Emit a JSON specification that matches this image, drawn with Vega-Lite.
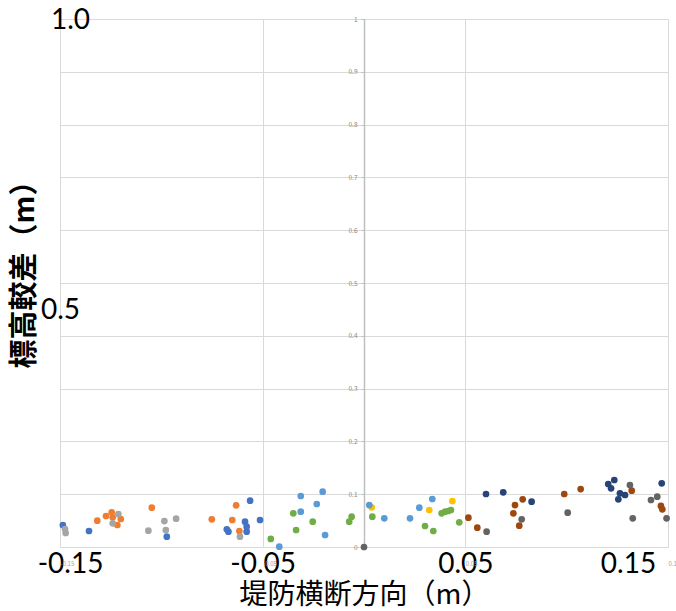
{
  "$schema": "https://vega.github.io/schema/vega-lite/v6.json",
  "width": 608,
  "height": 528,
  "autosize": {"type": "none"},
  "padding": {"left": 60, "top": 19, "right": 8, "bottom": 64},
  "background": "white",
  "config": {"view": {"stroke": null}, "font": "Noto Sans CJK JP"},
  "data": {"values": [
    {"s": "A", "x": -0.1486, "y": 0.0417},
    {"s": "A", "x": -0.1357, "y": 0.0303},
    {"s": "A", "x": -0.0973, "y": 0.0195},
    {"s": "A", "x": -0.0562, "y": 0.0877},
    {"s": "A", "x": -0.0677, "y": 0.0335},
    {"s": "A", "x": -0.0669, "y": 0.029},
    {"s": "A", "x": -0.0587, "y": 0.0479},
    {"s": "A", "x": -0.0579, "y": 0.0384},
    {"s": "A", "x": -0.0579, "y": 0.029},
    {"s": "A", "x": -0.0513, "y": 0.0511},
    {"s": "B", "x": -0.1316, "y": 0.0498},
    {"s": "B", "x": -0.1273, "y": 0.0587},
    {"s": "B", "x": -0.1245, "y": 0.0657},
    {"s": "B", "x": -0.124, "y": 0.0563},
    {"s": "B", "x": -0.12, "y": 0.053},
    {"s": "B", "x": -0.1217, "y": 0.0417},
    {"s": "B", "x": -0.1047, "y": 0.0744},
    {"s": "B", "x": -0.0751, "y": 0.0525},
    {"s": "B", "x": -0.0631, "y": 0.079},
    {"s": "B", "x": -0.065, "y": 0.0511},
    {"s": "B", "x": -0.0615, "y": 0.0303},
    {"s": "C", "x": -0.1475, "y": 0.0341},
    {"s": "C", "x": -0.1472, "y": 0.0265},
    {"s": "C", "x": -0.1212, "y": 0.0625},
    {"s": "C", "x": -0.124, "y": 0.0449},
    {"s": "C", "x": -0.1064, "y": 0.0309},
    {"s": "C", "x": -0.0985, "y": 0.0492},
    {"s": "C", "x": -0.0978, "y": 0.0322},
    {"s": "C", "x": -0.0927, "y": 0.0536},
    {"s": "C", "x": -0.0612, "y": 0.0195},
    {"s": "D", "x": 0.0038, "y": 0.0752},
    {"s": "D", "x": 0.0322, "y": 0.0701},
    {"s": "D", "x": 0.0436, "y": 0.0871},
    {"s": "E", "x": -0.0418, "y": 0.0006},
    {"s": "E", "x": -0.0312, "y": 0.0966},
    {"s": "E", "x": -0.0312, "y": 0.0669},
    {"s": "E", "x": -0.0204, "y": 0.1047},
    {"s": "E", "x": -0.0233, "y": 0.0814},
    {"s": "E", "x": -0.0192, "y": 0.0227},
    {"s": "E", "x": 0.0026, "y": 0.0795},
    {"s": "E", "x": 0.01, "y": 0.0544},
    {"s": "E", "x": 0.0227, "y": 0.0544},
    {"s": "E", "x": 0.0273, "y": 0.0744},
    {"s": "E", "x": 0.0337, "y": 0.0909},
    {"s": "F", "x": -0.046, "y": 0.0152},
    {"s": "F", "x": -0.0349, "y": 0.0638},
    {"s": "F", "x": -0.0335, "y": 0.0322},
    {"s": "F", "x": -0.0253, "y": 0.0479},
    {"s": "F", "x": -0.0061, "y": 0.0574},
    {"s": "F", "x": -0.0073, "y": 0.0479},
    {"s": "F", "x": 0.0041, "y": 0.0574},
    {"s": "F", "x": 0.0301, "y": 0.0398},
    {"s": "F", "x": 0.0342, "y": 0.0303},
    {"s": "F", "x": 0.0383, "y": 0.0638},
    {"s": "F", "x": 0.04, "y": 0.0669},
    {"s": "F", "x": 0.0416, "y": 0.0682},
    {"s": "F", "x": 0.0429, "y": 0.0701},
    {"s": "F", "x": 0.047, "y": 0.0468},
    {"s": "G", "x": 0.0602, "y": 0.1004},
    {"s": "G", "x": 0.0687, "y": 0.1036},
    {"s": "G", "x": 0.0827, "y": 0.0858},
    {"s": "G", "x": 0.1205, "y": 0.1193},
    {"s": "G", "x": 0.1235, "y": 0.1269},
    {"s": "G", "x": 0.1219, "y": 0.1112},
    {"s": "G", "x": 0.1263, "y": 0.1017},
    {"s": "G", "x": 0.1255, "y": 0.0903},
    {"s": "G", "x": 0.1288, "y": 0.0985},
    {"s": "G", "x": 0.1469, "y": 0.1206},
    {"s": "H", "x": 0.0515, "y": 0.0555},
    {"s": "H", "x": 0.0559, "y": 0.0366},
    {"s": "H", "x": 0.0783, "y": 0.0903},
    {"s": "H", "x": 0.0745, "y": 0.0795},
    {"s": "H", "x": 0.0737, "y": 0.0638},
    {"s": "H", "x": 0.0766, "y": 0.0403},
    {"s": "H", "x": 0.0988, "y": 0.1004},
    {"s": "H", "x": 0.1069, "y": 0.1098},
    {"s": "H", "x": 0.1321, "y": 0.1066},
    {"s": "H", "x": 0.1465, "y": 0.0777},
    {"s": "H", "x": 0.1472, "y": 0.0714},
    {"s": "I", "x": 0.0, "y": 0.0},
    {"s": "I", "x": 0.0605, "y": 0.029},
    {"s": "I", "x": 0.0778, "y": 0.0525},
    {"s": "I", "x": 0.1005, "y": 0.065},
    {"s": "I", "x": 0.1312, "y": 0.1174},
    {"s": "I", "x": 0.1326, "y": 0.0544},
    {"s": "I", "x": 0.1416, "y": 0.089},
    {"s": "I", "x": 0.1447, "y": 0.0953},
    {"s": "I", "x": 0.1493, "y": 0.0544}
  ]},
  "layer": [
    {
      "transform": [{"filter": {"field": "s", "oneOf": ["A", "B", "C", "D", "E"]}}],
      "mark": {"type": "point", "filled": true, "opacity": 1, "size": 45},
      "encoding": {
        "x": {
          "field": "x", "type": "quantitative",
          "scale": {"domain": [-0.15, 0.15], "nice": false, "zero": false},
          "axis": {
            "values": [-0.15, -0.05, 0.05, 0.15],
            "grid": true, "gridColor": "#d9d9d9", "gridWidth": 1,
            "domain": false, "ticks": false, "tickSize": 0,
            "labelExpr": "(datum.value < 0 ? '-' : '') + format(abs(datum.value), '.2f')",
            "labelFont": "Lato", "labelFontSize": 28, "labelColor": "#000",
            "labelPadding": 3, "labelOverlap": false, "labelFlush": false, "labelBound": false,
            "labelOffset": {"condition": [{"test": "datum.value < -0.1", "value": 10}, {"test": "datum.value > 0.1", "value": -40}], "value": 0},
            "title": "堤防横断方向（m）",
            "titleFont": "Noto Sans CJK JP", "titleFontSize": 28, "titleFontWeight": "normal",
            "titleColor": "#000", "titleY": 48, "titleBaseline": "middle"
          }
        },
        "y": {
          "field": "y", "type": "quantitative",
          "scale": {"domain": [0, 1], "nice": false, "zero": true},
          "axis": {
            "values": [0, 0.1, 0.2, 0.3, 0.4, 0.5, 0.6, 0.7, 0.8, 0.9, 1],
            "grid": true, "gridColor": "#d9d9d9", "gridWidth": 1,
            "domain": false, "ticks": false, "tickSize": 0,
            "labelExpr": "datum.value == 0.5 || datum.value == 1 ? format(datum.value, '.1f') : ''",
            "labelFont": "Lato", "labelFontSize": 28, "labelColor": "#000",
            "labelAlign": "center", "labelBaseline": "middle", "labelOverlap": false, "labelBound": false, "labelFlush": false,
            "labelPadding": {"condition": {"test": "datum.value == 1", "value": -10}, "value": 0},
            "labelOffset": {"condition": {"test": "datum.value == 0.5", "value": 27}, "value": 1},
            "title": "標高較差（m）",
            "titleFont": "Noto Sans CJK JP", "titleFontSize": 29, "titleFontWeight": "bold",
            "titleColor": "#000", "titleX": -36, "titleY": 248, "titleAngle": 270,
            "titleAlign": "center", "titleBaseline": "middle"
          }
        },
        "color": {
          "field": "s", "type": "nominal", "legend": null,
          "scale": {
            "domain": ["A", "B", "C", "D", "E", "F", "G", "H", "I"],
            "range": ["#4472C4", "#ED7D31", "#A5A5A5", "#FFC000", "#5B9BD5", "#70AD47", "#264478", "#9E480E", "#636363"]
          }
        }
      }
    },
    {
      "transform": [{"filter": {"field": "s", "oneOf": ["F", "G", "H", "I"]}}],
      "mark": {"type": "point", "filled": true, "opacity": 1, "size": 45},
      "encoding": {
        "x": {
          "field": "x", "type": "quantitative",
          "axis": {
            "orient": "bottom",
            "values": [-0.15, -0.05, 0.05, 0.15],
            "grid": false, "domain": false, "ticks": false, "tickSize": 0,
            "labelExpr": "(datum.value < 0 ? '-' : '') + format(abs(datum.value), '.2f')",
            "labelFontSize": 6, "labelColor": "#a0a0a0", "labelAlign": "left",
            "labelBaseline": "middle", "labelPadding": 16, "labelOverlap": false, "labelBound": false, "labelFlush": false,
            "title": null
          }
        },
        "y": {
          "field": "y", "type": "quantitative",
          "axis": {
            "orient": "left", "offset": -304,
            "values": [0, 0.1, 0.2, 0.3, 0.4, 0.5, 0.6, 0.7, 0.8, 0.9, 1],
            "grid": false,
            "domain": true, "domainColor": "#bfbfbf", "domainWidth": 1.5,
            "ticks": true, "tickSize": 3, "tickColor": "#bfbfbf",
            "labelExpr": "format(datum.value, '~g')",
            "labelFontSize": 6.5, "labelColor": "#888888", "labelPadding": 4,
            "labelOverlap": false, "labelBound": false, "labelFlush": false,
            "title": null
          }
        },
        "color": {"field": "s", "type": "nominal", "legend": null}
      }
    }
  ],
  "resolve": {"axis": {"x": "independent", "y": "independent"}}
}
